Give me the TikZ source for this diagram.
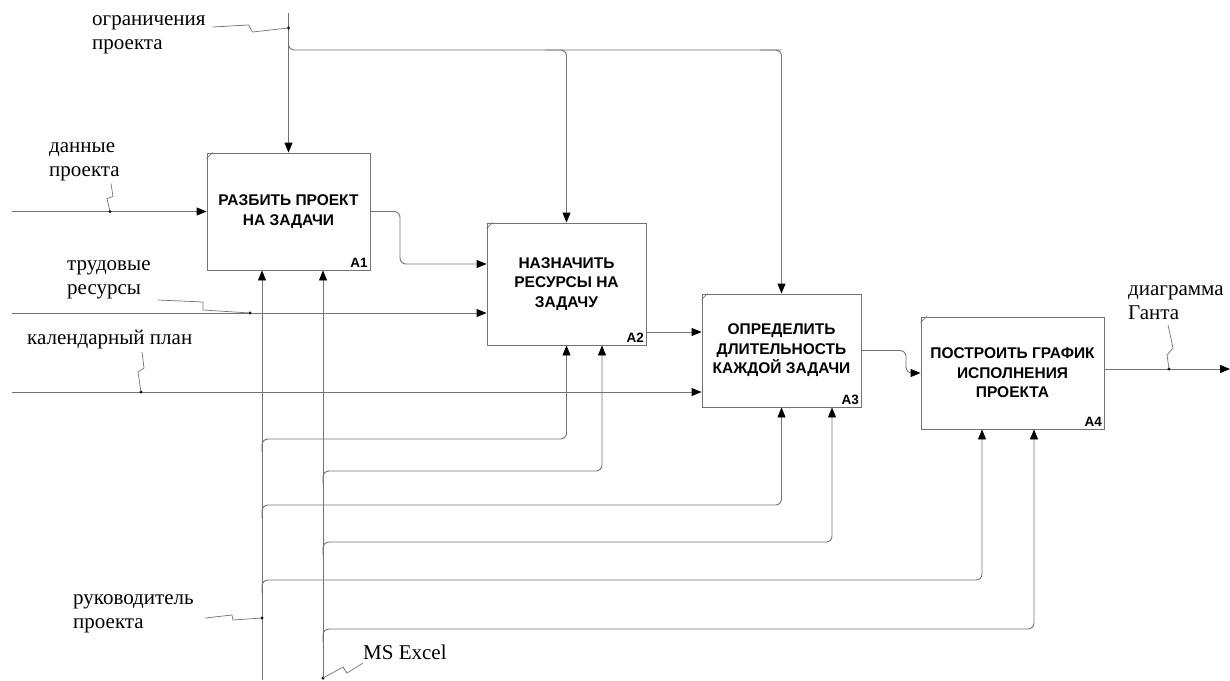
\documentclass[tikz,border=0pt]{standalone}
\usepackage{fontspec}
\setmainfont{Liberation Serif}
\newfontfamily\idefsans{Liberation Sans}
\usetikzlibrary{arrows.meta}

\begin{document}
\begin{tikzpicture}[
  x=1pt, y=-1pt,
  idefbox/.style = {draw=black!55, line width=0.9pt, inner sep=0pt, align=center,
    font=\idefsans\bfseries\fontsize{15.5}{19.5}\selectfont},
  idefnum/.style = {anchor=south east, inner sep=2.5pt,
    font=\idefsans\bfseries\fontsize{13.5}{13.5}\selectfont},
  idefflow/.style = {draw=black!55, line width=0.9pt,
    -{Triangle[length=10pt, width=8pt, color=black]}},
  idefpipe/.style = {draw=black!55, line width=0.9pt},
  idefsquig/.style = {draw=black!55, line width=0.7pt},
  ideflbl/.style = {anchor=west, inner sep=0pt, align=left,
    font=\fontsize{21}{24}\selectfont},
  idefdot/.style = {fill=black, radius=1.6pt}
]
  \useasboundingbox (0,0) rectangle (1230,680);

  % блоки
  \node[idefbox, minimum width=163pt, minimum height=117pt] (A1) at (288.5,211.5)
    {РАЗБИТЬ ПРОЕКТ\\НА ЗАДАЧИ};
  \node[idefbox, minimum width=159pt, minimum height=122pt] (A2) at (566.5,284)
    {НАЗНАЧИТЬ\\РЕСУРСЫ НА\\ЗАДАЧУ};
  \node[idefbox, minimum width=159pt, minimum height=113pt] (A3) at (781.5,350.5)
    {ОПРЕДЕЛИТЬ\\ДЛИТЕЛЬНОСТЬ\\КАЖДОЙ ЗАДАЧИ};
  \node[idefbox, minimum width=183pt, minimum height=112pt] (A4) at (1012.5,373)
    {ПОСТРОИТЬ ГРАФИК\\ИСПОЛНЕНИЯ\\ПРОЕКТА};
  \foreach \b in {A1,A2,A3,A4} {
    \node[idefnum] (n\b) at (\b.south east) {\b};
    \draw[idefpipe, line width=0.6pt] ([yshift=-6pt]\b.north west) -- ([xshift=6pt]\b.north west);
  }

  % подписи стрелок
  \node[ideflbl] (lOgr)   at (92,35)     {ограничения\\проекта};
  \node[ideflbl] (lDan)   at (49,161.5)  {данные\\проекта};
  \node[ideflbl] (lTrud)  at (67,279.5)  {трудовые\\ресурсы};
  \node[ideflbl] (lKal)   at (27,340)    {календарный план};
  \node[ideflbl] (lGant)  at (1128,303)  {диаграмма\\Ганта};
  \node[ideflbl] (lRuk)   at (73,614)    {руководитель\\проекта};
  \node[ideflbl] (lExcel) at (363,652)   {MS Excel};

  % концы стрелок
  \coordinate (ctlTop) at (288.5,13);
  \coordinate (inDan)  at (12,211.5);
  \coordinate (inTrud) at (12,313);
  \coordinate (inKal)  at (12,392);
  \coordinate (outEnd) at (1230,369);
  \coordinate (mRuk)   at (262,680);
  \coordinate (mExcel) at (323,680);
  \coordinate (m2a) at ([xshift=0pt]A2.south);
  \coordinate (m2b) at ([xshift=35.5pt]A2.south);
  \coordinate (m3a) at ([xshift=0pt]A3.south);
  \coordinate (m3b) at ([xshift=50.5pt]A3.south);
  \coordinate (m4a) at ([xshift=-30.5pt]A4.south);
  \coordinate (m4b) at ([xshift=21.5pt]A4.south);

  % управление
  \draw[idefflow] (ctlTop) -- (A1.north);
  \draw[idefpipe, rounded corners=6pt] (288.5,38) |- (781.5,50);
  \draw[idefflow, rounded corners=6pt] (760,50) -| (A3.north);
  \draw[idefflow, rounded corners=6pt] (545,50) -| (A2.north);

  % входы и выходы
  \draw[idefflow] (inDan) -- (A1.west);
  \draw[idefflow, rounded corners=6pt] (A1.east) -- (400,211.5) -- (400,264) -- (A2.west |- 0,264);
  \draw[idefflow] (inTrud) -- (inTrud -| A2.west);
  \draw[idefflow] (A2.east |- 0,332) -- (A3.west |- 0,332);
  \draw[idefflow] (inKal) -- (inKal -| A3.west);
  \draw[idefflow, rounded corners=6pt] (A3.east) -- (906,350.5) -- (906,373) -- (A4.west);
  \draw[idefflow] (A4.east |- 0,369) -- (outEnd);

  % механизмы
  \draw[idefflow] (mRuk) -- (mRuk |- A1.south);
  \draw[idefflow] (mExcel) -- (mExcel |- A1.south);
  \foreach \src/\yy/\dst in {mRuk/439/m2a, mExcel/471/m2b, mRuk/505/m3a,
                             mExcel/542/m3b, mRuk/580/m4a, mExcel/629/m4b}
    \draw[idefflow, rounded corners=6pt] (\src |- 0,\yy+13) |- (\dst |- 0,\yy) -- (\dst);

  % точки и тильды
  \fill (288.5,28) coordinate (dOgr) circle[idefdot];
  \fill (110,211.5) coordinate (dDan) circle[idefdot];
  \fill (250,313) coordinate (dTrud) circle[idefdot];
  \fill (141,392) coordinate (dKal) circle[idefdot];
  \fill (1169,369) coordinate (dGant) circle[idefdot];
  \fill (262,618) coordinate (dRuk) circle[idefdot];
  \fill (323,678) coordinate (dExcel) circle[idefdot];
  \draw[idefsquig] (dOgr) -- ++(-36,4) -- ++(-4,-7) -- ++(-36,2);
  \draw[idefsquig] (dDan) -- ++(-3,-13) -- ++(6,-2) -- ++(-2,-13);
  \draw[idefsquig] (dTrud) -- ++(-47,-3) -- ++(0,-8) -- ++(-45,-2);
  \draw[idefsquig] (dKal) -- ++(-3,-20) -- ++(6,-4) -- ++(-2,-16);
  \draw[idefsquig] (dGant) -- ++(-2,-14) -- ++(6,-7) -- ++(-5,-23);
  \draw[idefsquig] (dRuk) -- ++(-29,2) -- ++(-1,-5) -- ++(-27,3);
  \draw[idefsquig] (dExcel) -- ++(20,-11) -- ++(4,6) -- ++(16,-10);
\end{tikzpicture}
\end{document}
